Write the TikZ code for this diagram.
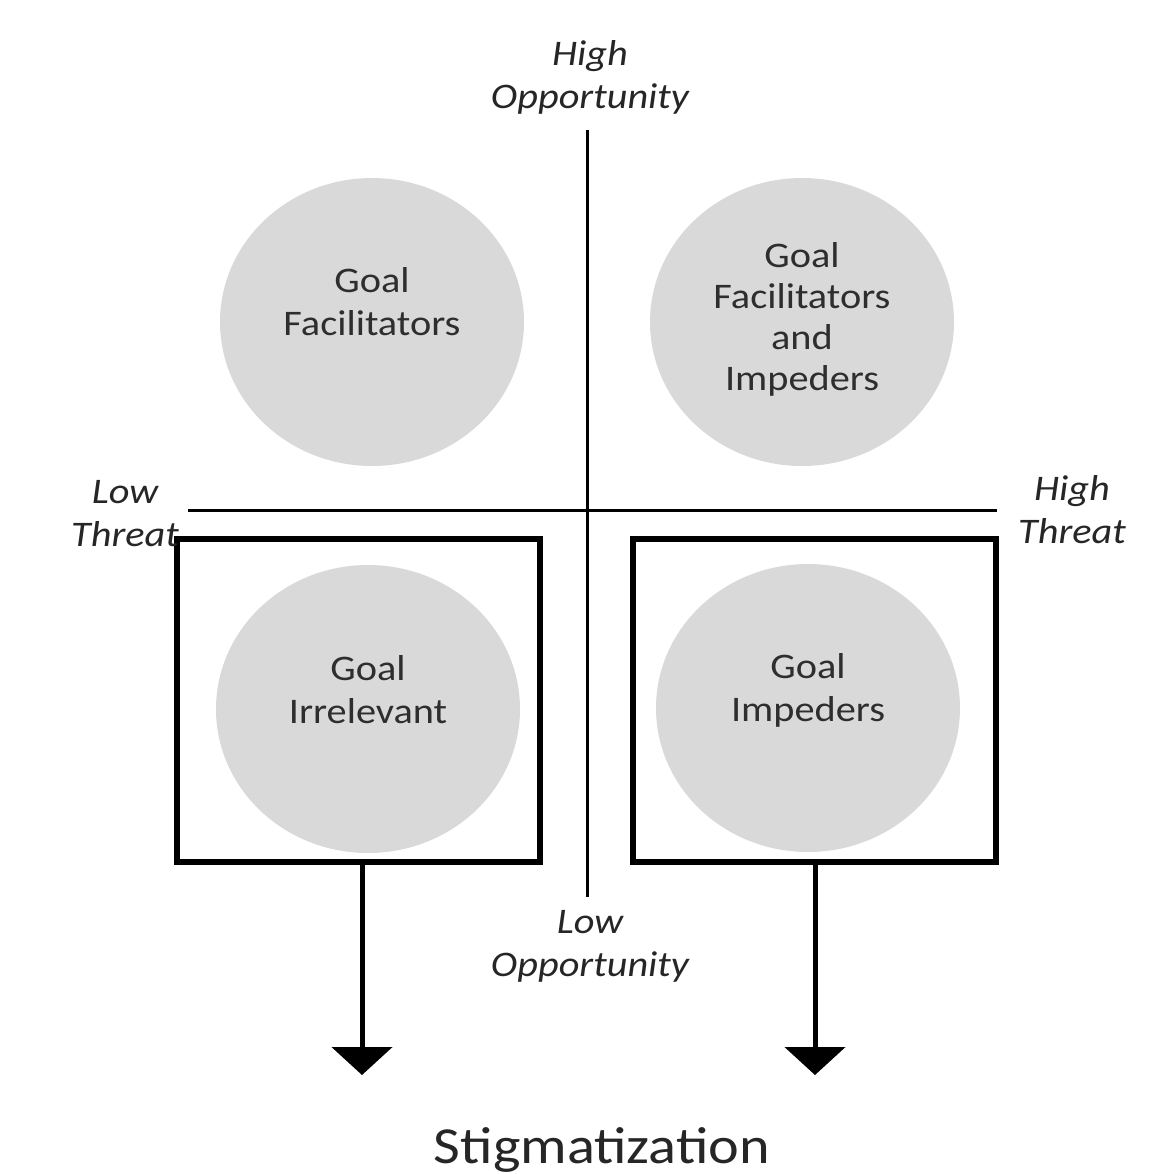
\documentclass[tikz,border=0pt]{standalone}
\usepackage{fontspec}
\setmainfont{Carlito}[FakeStretch=1.12]
\usetikzlibrary{shapes.geometric,arrows.meta}
\definecolor{blobgray}{HTML}{D9D9D9}
\definecolor{txtgray}{HTML}{2E2E2E}
\tikzset{
  blob/.style={ellipse,fill=blobgray,draw=none,minimum width=152pt,minimum height=144pt,inner sep=0pt},
  ctext/.style={align=center,text=txtgray,font=\fontsize{18}{21.5}\selectfont,inner sep=0pt},
  axlabel/.style={align=center,text=black!85,font=\itshape\fontsize{18}{21.5}\selectfont,inner sep=0pt},
  axis/.style={line width=1.5pt,draw=black},
  frame/.style={rectangle,draw=black,line width=3pt,minimum width=181.5pt,minimum height=161.5pt,inner sep=0pt},
  outarrow/.style={line width=2.5pt,-{Triangle[width=30pt,length=14pt]}},
}
\begin{document}
\begin{tikzpicture}[x=0.5pt,y=-0.5pt]
\path[use as bounding box] (0,0) rectangle (1174,1174);
% axes
\coordinate (vtop) at (587,130);
\coordinate (vbot) at (587,897);
\coordinate (hl) at (188,510);
\coordinate (hr) at (997,510);
\draw[axis] (vtop) -- (vbot);
\draw[axis] (hl) -- (hr);
% circles
\node[blob] (c1) at (372,322) {};
\node[blob] (c2) at (802,322) {};
\node[blob] (c3) at (368,709) {};
\node[blob] (c4) at (808,708) {};
\node[ctext] (t1) at (372,302) {Goal\\Facilitators};
\node[ctext,font=\fontsize{18}{20.5}\selectfont] (t2) at (802,319) {Goal\\Facilitators\\and\\Impeders};
\node[ctext] (t3) at (368,690) {Goal\\Irrelevant};
\node[ctext] (t4) at (808,690) {Goal\\Impeders};
% frames
\node[frame] (b1) at (358.5,700.5) {};
\node[frame] (b2) at (814.5,700.5) {};
% arrows
\coordinate (a1) at (362,1075);
\coordinate (a2) at (815,1075);
\draw[outarrow] (a1 |- b1.south) -- (a1);
\draw[outarrow] (a2 |- b2.south) -- (a2);
% labels
\node[axlabel] (ho) at (590,77) {High\\Opportunity};
\node[axlabel] (lo) at (590,946) {Low\\Opportunity};
\node[axlabel] (lt) at (125,514) {Low\\Threat};
\node[axlabel] (ht) at (1072,510) {High\\Threat};
\node[text=black!85,font=\fontsize{26}{30}\selectfont,inner sep=0pt] (st) at (602,1150) {Stigmatization};
\end{tikzpicture}
\end{document}
